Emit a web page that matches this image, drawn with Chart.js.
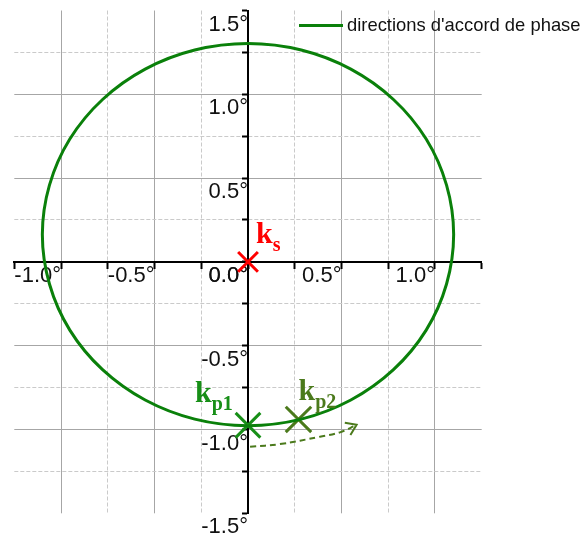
<!DOCTYPE html>
<html>
<head>
<meta charset="utf-8">
<script src="https://cdn.jsdelivr.net/npm/chart.js@4/dist/chart.umd.min.js"></script>
<style>
  html, body { margin: 0; padding: 0; background: #fff; }
  #wrap { width: 584px; height: 541px; position: relative; }
</style>
</head>
<body>
<div id="wrap"><canvas id="myChart"></canvas></div>
<script>
// phase-matching directions (degrees), traced once around the loop
const phaseX = [1.10, 1.062, 0.953, 0.778, 0.55, 0.285, 0, -0.285, -0.55, -0.778, -0.953, -1.062,
                -1.10, -1.062, -0.953, -0.778, -0.55, -0.285, 0, 0.285, 0.55, 0.778, 0.953, 1.062];
const phaseY = [0.163, 0.458, 0.733, 0.969, 1.150, 1.264, 1.303, 1.264, 1.150, 0.969, 0.733, 0.458,
                0.163, -0.132, -0.407, -0.643, -0.824, -0.938, -0.977, -0.938, -0.824, -0.643, -0.407, -0.132];

// wave vectors: ks, kp1, kp2
const markerSubs = ['s', 'p1', 'p2'];
const markerX = [0, 0, 0.27];
const markerY = [0, -0.975, -0.94];

// dashed arrow from kp1 towards kp2
const arrowX = [0.011, 0.171, 0.385, 0.492, 0.581];
const arrowY = [-1.103, -1.087, -1.043, -1.017, -0.972];

// axis labels (degrees)
const xLabelTicks = [-1.0, -0.5, 0.0, 0.5, 1.0];
const yLabelTicks = [-1.5, -1.0, -0.5, 0.0, 0.5, 1.0, 1.5];

const green = '#0a800a';
const markerColors = ['#ff0000', '#178f17', '#4b7a1c'];
const markerSizes = [14, 17.5, 18];
const nameOffsets = [[8, -18.5], [-53, -23.5], [0, -19]];

const isHalf = v => Math.abs(v * 2 - Math.round(v * 2)) < 1e-6;
const hasLabel = (list, v) => list.some(t => Math.abs(t - v) < 1e-6);

// closed loop: one extra point on each end so the spline is smooth at the join,
// the two extra segments are left undrawn
const loopPts = phaseX.map((v, i) => ({x: v, y: phaseY[i]}));
const loopData = [loopPts[loopPts.length - 1]].concat(loopPts, [loopPts[0], loopPts[1]]);
const lastSeg = loopData.length - 1;

const overlay = {
    id: 'overlay',
    afterDatasetsDraw(chart) {
        const {ctx, scales: {x, y}} = chart;
        ctx.save();

        // arrow head
        const n = arrowX.length;
        const x1 = x.getPixelForValue(arrowX[n - 2]), y1 = y.getPixelForValue(arrowY[n - 2]);
        const x2 = x.getPixelForValue(arrowX[n - 1]), y2 = y.getPixelForValue(arrowY[n - 1]);
        const ang = Math.atan2(y2 - y1, x2 - x1);
        ctx.strokeStyle = markerColors[2];
        ctx.lineWidth = 2;
        ctx.beginPath();
        ctx.moveTo(x2 - 12 * Math.cos(ang - 0.6), y2 - 12 * Math.sin(ang - 0.6));
        ctx.lineTo(x2, y2);
        ctx.lineTo(x2 - 12 * Math.cos(ang + 0.6), y2 - 12 * Math.sin(ang + 0.6));
        ctx.stroke();

        // k names next to the markers
        ctx.textAlign = 'left';
        ctx.textBaseline = 'alphabetic';
        markerSubs.forEach((sub, i) => {
            const px = x.getPixelForValue(markerX[i]) + nameOffsets[i][0];
            const py = y.getPixelForValue(markerY[i]) + nameOffsets[i][1];
            ctx.fillStyle = markerColors[i];
            ctx.font = 'bold 30px "Liberation Serif", "Times New Roman", serif';
            ctx.fillText('k', px, py);
            const w = ctx.measureText('k').width;
            ctx.font = 'bold 20px "Liberation Serif", "Times New Roman", serif';
            ctx.fillText(sub, px + w, py + 8);
        });

        // legend
        const ds = chart.data.datasets[0];
        ctx.strokeStyle = ds.borderColor;
        ctx.lineWidth = 3;
        ctx.beginPath();
        ctx.moveTo(299, 25.5);
        ctx.lineTo(343, 25.5);
        ctx.stroke();
        ctx.fillStyle = '#111';
        ctx.font = '18.4px "Liberation Sans", Arial, sans-serif';
        ctx.fillText(ds.label, 347, 30.7);

        ctx.restore();
    }
};

function gridColor(ctx, edge) {
    const v = ctx.tick ? ctx.tick.value : 0;
    if (Math.abs(v) < 1e-6 || Math.abs(Math.abs(v) - edge) < 1e-6) return 'rgba(0,0,0,0)';
    return isHalf(v) ? '#a6a6a6' : '#cacaca';
}
function gridDash(ctx) {
    if (!ctx.tick) return [];
    return isHalf(ctx.tick.value) ? [] : [4, 2];
}

const tickFont = { family: '"Liberation Sans", Arial, sans-serif', size: 22 };

document.addEventListener('DOMContentLoaded', function() {
    var ctx = document.getElementById('myChart').getContext('2d');
    var myChart = new Chart(ctx, {
        type: 'scatter',
        data: {
            datasets: [{
                label: "directions d'accord de phase",
                data: loopData,
                showLine: true,
                borderColor: green,
                borderWidth: 3,
                tension: 0.35,
                pointRadius: 0,
                segment: {
                    borderColor: c => (c.p0DataIndex === 0 || c.p1DataIndex === lastSeg) ? 'rgba(0,0,0,0)' : undefined
                }
            }, {
                label: 'arrow',
                data: arrowX.map((v, i) => ({x: v, y: arrowY[i]})),
                showLine: true,
                borderColor: markerColors[2],
                borderWidth: 2,
                borderDash: [6, 4],
                tension: 0.4,
                pointRadius: 0
            }].concat(markerSubs.map((s, i) => ({
                label: 'k' + s,
                data: [{x: markerX[i], y: markerY[i]}],
                pointStyle: 'crossRot',
                pointRadius: markerSizes[i],
                pointBorderWidth: 3,
                pointBorderColor: markerColors[i],
                borderColor: markerColors[i],
                showLine: false
            })))
        },
        options: {
            responsive: true,
            maintainAspectRatio: false,
            animation: false,
            events: [],
            layout: {
                autoPadding: false,
                padding: { left: 14.3, right: 102.3, top: 10.5, bottom: 27.7 }
            },
            plugins: {
                legend: { display: false },
                tooltip: { enabled: false }
            },
            scales: {
                x: {
                    type: 'linear',
                    position: { y: 0 },
                    min: -1.25,
                    max: 1.25,
                    grid: {
                        color: c => gridColor(c, 1.25),
                        lineWidth: 1,
                        tickColor: '#000',
                        tickWidth: 2,
                        tickLength: 6
                    },
                    border: { display: true, color: '#000', width: 2, dash: gridDash },
                    ticks: {
                        stepSize: 0.25,
                        autoSkip: false,
                        minRotation: 0,
                        maxRotation: 0,
                        align: 'end',
                        padding: -5,
                        color: '#111',
                        font: tickFont,
                        callback: v => hasLabel(xLabelTicks, v) ? v.toFixed(1) + '°' : ''
                    }
                },
                y: {
                    type: 'linear',
                    position: { x: 0 },
                    min: -1.5,
                    max: 1.5,
                    grid: {
                        color: c => gridColor(c, 1.5),
                        lineWidth: 1,
                        tickColor: '#000',
                        tickWidth: 2,
                        tickLength: 5
                    },
                    border: { display: true, color: '#000', width: 2, dash: gridDash },
                    ticks: {
                        stepSize: 0.25,
                        autoSkip: false,
                        padding: -20,
                        labelOffset: 14,
                        color: '#111',
                        font: tickFont,
                        callback: v => hasLabel(yLabelTicks, v) ? v.toFixed(1) + '°' : ''
                    }
                }
            }
        },
        plugins: [overlay]
    });
});
</script>
</body>
</html>
